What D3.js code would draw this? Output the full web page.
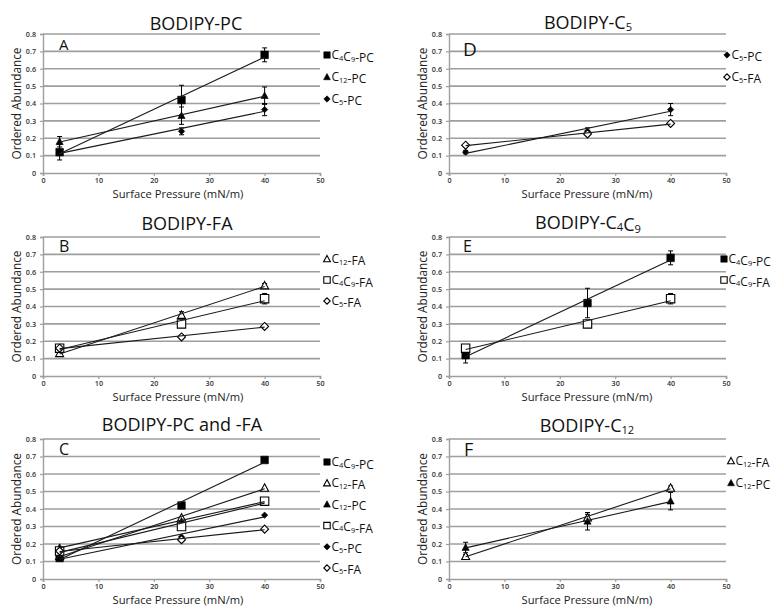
<!DOCTYPE html>
<html>
<head>
<meta charset="utf-8">
<script src="https://cdn.jsdelivr.net/npm/d3@7"></script>
<style>
  html, body { margin: 0; padding: 0; background: #ffffff; }
  svg { display: block; font-family: "Open Sans", "Noto Sans", sans-serif; }
</style>
</head>
<body>
<svg id="chart" width="777" height="607"></svg>
<script>
// ---------------- DATA ----------------
const pressure = [3, 25, 40];
const xTickValues = [0, 10, 20, 30, 40, 50];
const yTickValues = [0, 0.1, 0.2, 0.3, 0.4, 0.5, 0.6, 0.7, 0.8];
const yTickLabels = ["0", "0.1", "0.2", "0.3", "0.4", "0.5", "0.6", "0.7", "0.8"];

const seriesNames = ["C4C9-PC", "C12-PC", "C5-PC", "C12-FA", "C4C9-FA", "C5-FA"];
const seriesMarkers = ["square-filled", "triangle-filled", "diamond-filled", "triangle-open", "square-open", "diamond-open"];

const c4c9PC = [0.12, 0.42, 0.68];
const c4c9PCErr = [0.045, 0.085, 0.04];
const c12PC = [0.18, 0.33, 0.445];
const c12PCErr = [0.03, 0.05, 0.05];
const c5PC = [0.12, 0.24, 0.365];
const c5PCErr = [0.01, 0.02, 0.035];
const c12FA = [0.13, 0.35, 0.52];
const c12FAErr = [0.01, 0.02, 0.012];
const c4c9FA = [0.16, 0.30, 0.445];
const c4c9FAErr = [0.012, 0.012, 0.03];
const c5FA = [0.16, 0.225, 0.285];
const c5FAErr = [0.006, 0.01, 0.01];

const seriesValues = [c4c9PC, c12PC, c5PC, c12FA, c4c9FA, c5FA];
const seriesErrors = [c4c9PCErr, c12PCErr, c5PCErr, c12FAErr, c4c9FAErr, c5FAErr];

const panelTitles = ["BODIPY-PC", "BODIPY-FA", "BODIPY-PC and -FA", "BODIPY-C5", "BODIPY-C4C9", "BODIPY-C12"];
const panelLetters = ["A", "B", "C", "D", "E", "F"];
const panelSeries = [[0, 1, 2], [3, 4, 5], [0, 3, 1, 4, 2, 5], [2, 5], [0, 4], [3, 1]];
const panelShowErrors = [true, true, false, true, true, true];

const xAxisTitle = "Surface Pressure (mN/m)";
const yAxisTitle = "Ordered Abundance";

// ---------------- LAYOUT ----------------
const layout = [
  { x0: 43,  x1: 320, y0: 34,  y1: 173, titleX: 196, titleY: 30,  letterX: 59,  letterY: 50,  letterSize: 15, legX: 327, legY: 55,  legStep: 22, yTitleX: 16,  xTitleX: 178 },
  { x0: 43,  x1: 320, y0: 237, y1: 376, titleX: 187, titleY: 230, letterX: 59,  letterY: 252, letterSize: 16, legX: 327, legY: 259, legStep: 21, yTitleX: 16,  xTitleX: 178 },
  { x0: 43,  x1: 320, y0: 439, y1: 579, titleX: 182, titleY: 431, letterX: 59,  letterY: 455, letterSize: 16, legX: 327, legY: 462, legStep: 21.2, yTitleX: 16, xTitleX: 178 },
  { x0: 449, x1: 726, y0: 34,  y1: 173, titleX: 588, titleY: 29,  letterX: 463, letterY: 56,  letterSize: 19, legX: 727, legY: 55,  legStep: 22, yTitleX: 422, xTitleX: 587 },
  { x0: 449, x1: 726, y0: 237, y1: 376, titleX: 588, titleY: 229, letterX: 463, letterY: 252, letterSize: 16, legX: 724, legY: 259, legStep: 21, yTitleX: 422, xTitleX: 587 },
  { x0: 449, x1: 726, y0: 439, y1: 579, titleX: 587, titleY: 432, letterX: 464, letterY: 456, letterSize: 18, legX: 731, legY: 461, legStep: 22, yTitleX: 422, xTitleX: 587 }
];

const svg = d3.select("#chart");
svg.append("rect").attr("width", 777).attr("height", 607).attr("fill", "#ffffff");

// rich text: digits become small subscripts
function richText(sel, str, subShift) {
  const parts = str.split(/(\d+)/).filter(p => p.length);
  parts.forEach(p => {
    if (/^\d+$/.test(p)) {
      sel.append("tspan").attr("font-size", "62%").attr("dy", subShift).text(p);
      sel.append("tspan").attr("dy", -subShift).text("");
    } else {
      sel.append("tspan").text(p);
    }
  });
}

function markerPath(type, s) {
  if (type.startsWith("square")) {
    return `M${-s},${-s}L${s},${-s}L${s},${s}L${-s},${s}Z`;
  } else if (type.startsWith("triangle")) {
    return `M0,${-s * 1.05}L${s},${s * 0.8}L${-s},${s * 0.8}Z`;
  } else {
    return `M0,${-s}L${s},0L0,${s}L${-s},0Z`;
  }
}

function drawMarker(g, type, x, y, s) {
  const open = type.endsWith("open");
  g.append("path")
    .attr("d", markerPath(type, s))
    .attr("transform", `translate(${x},${y})`)
    .attr("fill", open ? "#ffffff" : "#000000")
    .attr("stroke", "#000000")
    .attr("stroke-width", open ? 1.1 : 0.6);
}

const gridColor = "#9e9e9e";

layout.forEach((L, pi) => {
  const g = svg.append("g");
  const x = d3.scaleLinear().domain([0, 50]).range([L.x0, L.x1]);
  const y = d3.scaleLinear().domain([0, 0.8]).range([L.y1, L.y0]);

  // gridlines
  g.append("g").selectAll("line")
    .data(yTickValues.filter(v => v > 0))
    .join("line")
    .attr("x1", L.x0).attr("x2", L.x1)
    .attr("y1", d => y(d)).attr("y2", d => y(d))
    .attr("stroke", gridColor).attr("stroke-width", 1.7);

  // y axis
  const yAxis = d3.axisLeft(y).tickValues(yTickValues)
    .tickFormat((d, i) => yTickLabels[i]).tickSize(3).tickPadding(4);
  const ya = g.append("g").attr("transform", `translate(${L.x0},0)`).call(yAxis);
  ya.select(".domain").attr("stroke", gridColor).attr("stroke-width", 1.4);
  ya.selectAll(".tick line").attr("stroke", gridColor).attr("stroke-width", 1.2);
  ya.selectAll(".tick text").attr("font-size", 7.2).attr("fill", "#333")
    .attr("font-family", "'Open Sans', sans-serif").attr("font-weight", 600);

  // x axis
  const xAxis = d3.axisBottom(x).tickValues(xTickValues).tickSize(3).tickPadding(2);
  const xa = g.append("g").attr("transform", `translate(0,${L.y1})`).call(xAxis);
  xa.select(".domain").attr("stroke", gridColor).attr("stroke-width", 1.7);
  xa.selectAll(".tick line").attr("stroke", gridColor).attr("stroke-width", 1.2);
  xa.selectAll(".tick text").attr("font-size", 7.2).attr("fill", "#333")
    .attr("font-family", "'Open Sans', sans-serif").attr("font-weight", 600);

  // axis titles
  g.append("text")
    .attr("x", L.xTitleX).attr("y", L.y1 + 25)
    .attr("text-anchor", "middle").attr("font-size", 11.2).attr("fill", "#222")
    .text(xAxisTitle);
  g.append("text")
    .attr("transform", `translate(${L.yTitleX},${(L.y0 + L.y1) / 2}) rotate(-90)`)
    .attr("text-anchor", "middle").attr("dominant-baseline", "central")
    .attr("font-size", 11.8).attr("fill", "#222")
    .text(yAxisTitle);

  // chart title
  const t = g.append("text")
    .attr("x", L.titleX).attr("y", L.titleY)
    .attr("text-anchor", "middle").attr("font-size", 18).attr("fill", "#111");
  richText(t, panelTitles[pi], 2);

  // panel letter
  g.append("text")
    .attr("x", L.letterX).attr("y", L.letterY)
    .attr("font-size", L.letterSize).attr("fill", "#111")
    .text(panelLetters[pi]);

  const ids = panelSeries[pi];

  // error bars
  if (panelShowErrors[pi]) {
    ids.forEach(si => {
      const vals = seriesValues[si], errs = seriesErrors[si];
      pressure.forEach((p, k) => {
        const cx = x(p), lo = y(vals[k] - errs[k]), hi = y(vals[k] + errs[k]);
        g.append("line").attr("x1", cx).attr("x2", cx).attr("y1", lo).attr("y2", hi)
          .attr("stroke", "#000").attr("stroke-width", 1);
        [lo, hi].forEach(yy => g.append("line")
          .attr("x1", cx - 2.5).attr("x2", cx + 2.5).attr("y1", yy).attr("y2", yy)
          .attr("stroke", "#000").attr("stroke-width", 1));
      });
    });
  }

  // markers
  ids.forEach(si => {
    const type = seriesMarkers[si];
    const s = type.startsWith("square") ? (type.endsWith("open") ? 4.2 : 3.8)
            : type.startsWith("triangle") ? (type.endsWith("open") ? 4 : 3.6)
            : (type.endsWith("open") ? 4 : 3.2);
    pressure.forEach((p, k) => drawMarker(g, type, x(p), y(seriesValues[si][k]), s));
  });

  // linear trendlines (least squares fit of each series)
  ids.forEach(si => {
    const vals = seriesValues[si];
    const mx = d3.mean(pressure), my = d3.mean(vals);
    const sxy = d3.sum(pressure, (p, k) => (p - mx) * (vals[k] - my));
    const sxx = d3.sum(pressure, p => (p - mx) * (p - mx));
    const slope = sxy / sxx, icpt = my - slope * mx;
    const xa0 = d3.min(pressure), xa1 = d3.max(pressure);
    g.append("line")
      .attr("x1", x(xa0)).attr("y1", y(icpt + slope * xa0))
      .attr("x2", x(xa1)).attr("y2", y(icpt + slope * xa1))
      .attr("stroke", "#1a1a1a").attr("stroke-width", 1.1);
  });

  // legend
  ids.forEach((si, j) => {
    const ly = L.legY + j * L.legStep;
    const type = seriesMarkers[si];
    const s = type.startsWith("square") ? 3.2 : type.startsWith("triangle") ? 3.4 : 3.2;
    drawMarker(g, type, L.legX, ly, s);
    const lt = g.append("text")
      .attr("x", L.legX + 4.5).attr("y", ly + 4.2)
      .attr("font-size", 12).attr("fill", "#111");
    richText(lt, seriesNames[si], 1.5);
  });
});
</script>
</body>
</html>
